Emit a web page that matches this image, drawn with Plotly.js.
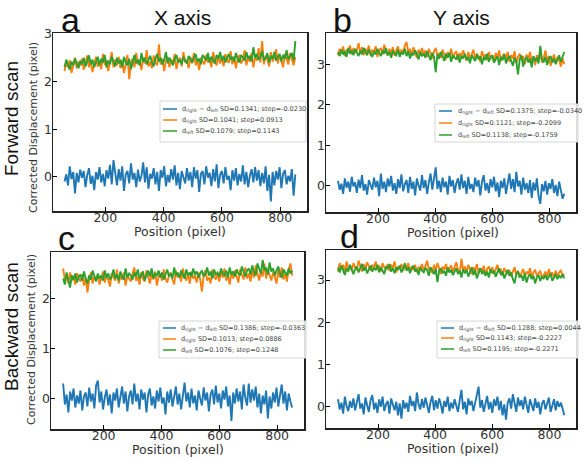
<!DOCTYPE html>
<html>
<head>
<meta charset="utf-8">
<script src="https://cdn.plot.ly/plotly-3.0.1.min.js"></script>
<style>
  html, body { margin: 0; padding: 0; background: #fff; }
  #chart { width: 587px; height: 461px; }
</style>
</head>
<body>
<div id="chart"></div>
<script>
// Sampling positions along the scan (pixel)
const posStart = 60;
const posStep = 6;
const posCount = 133;

// Panel titles and labels
const panelLetters = ["a", "b", "c", "d"];
const columnTitles = ["X axis", "Y axis"];
const rowTitles = ["Forward scan", "Backward scan"];
const xLabel = "Position (pixel)";
const yLabel = "Corrected Displacement (pixel)";
const xTickVals = [200, 400, 600, 800];

// Legend statistics per panel: [diff, right, left]
const sdValues = [
  ["0.1341", "0.1041", "0.1079"],
  ["0.1375", "0.1121", "0.1138"],
  ["0.1386", "0.1013", "0.1076"],
  ["0.1288", "0.1143", "0.1195"]
];
const stepValues = [
  ["-0.0230", "0.0913", "0.1143"],
  ["-0.0340", "-0.2099", "-0.1759"],
  ["-0.0363", "0.0886", "0.1248"],
  ["0.0044", "-0.2227", "-0.2271"]
];

// (a) forward scan, X axis
const diffA = [-0.10,0.05,-0.18,0.22,-0.05,0.10,-0.35,0.08,-0.12,0.15,
  -0.02,0.12,-0.22,0.04,0.18,-0.15,0.02,-0.28,0.10,-0.06,
  0.20,-0.12,0.06,-0.20,0.14,-0.04,0.25,-0.16,0.35,0.02,
  -0.18,0.16,-0.08,0.22,-0.30,0.05,0.12,-0.14,0.28,-0.06,
  0.08,-0.22,0.15,-0.10,0.02,0.30,-0.12,0.20,-0.25,0.06,
  -0.04,0.18,-0.16,0.10,-0.30,0.14,-0.02,0.22,-0.20,0.04,
  -0.12,0.16,-0.06,0.24,-0.18,0.08,-0.26,0.12,0.00,-0.14,
  0.18,-0.08,0.10,-0.22,0.20,-0.04,0.14,-0.32,0.06,0.12,
  -0.16,0.22,-0.02,0.08,-0.20,0.16,-0.10,0.26,-0.24,0.04,
  0.12,-0.14,0.20,-0.06,0.02,-0.28,0.14,-0.08,0.18,-0.18,
  0.06,-0.10,0.24,-0.16,0.10,-0.22,0.02,0.16,-0.12,0.20,
  -0.08,0.14,-0.20,0.08,-0.14,0.22,-0.30,0.04,-0.52,0.10,
  -0.18,0.12,-0.06,0.20,-0.24,0.06,0.14,-0.16,0.02,-0.10,
  0.16,-0.40,0.05];
const rightA = [2.22,2.40,2.30,2.45,2.18,2.38,2.50,2.28,2.42,2.33,
  2.48,2.25,2.40,2.55,2.30,2.44,2.20,2.36,2.52,2.31,
  2.42,2.26,2.58,2.35,2.45,2.22,2.40,2.62,2.30,2.46,
  2.34,2.52,2.28,2.44,2.18,2.40,2.56,2.05,2.38,2.48,
  2.30,2.60,2.36,2.45,2.24,2.50,2.38,2.66,2.32,2.42,
  2.28,2.55,2.40,2.34,2.78,2.36,2.48,2.22,2.44,2.52,
  2.30,2.46,2.38,2.58,2.26,2.44,2.50,2.32,2.62,2.40,
  2.45,2.28,2.52,2.38,2.60,2.34,2.46,2.24,2.50,2.42,
  2.36,2.56,2.40,2.48,2.30,2.62,2.44,2.34,2.54,2.38,
  2.50,2.32,2.58,2.44,2.40,2.64,2.36,2.52,2.28,2.48,
  2.56,2.38,2.46,2.66,2.34,2.50,2.42,2.60,2.30,2.52,
  2.44,2.70,2.40,2.85,2.36,2.54,2.46,2.32,2.62,2.42,
  2.50,2.68,2.38,2.56,2.44,2.30,2.58,2.48,2.36,2.60,
  2.46,2.34,2.52];
const leftA = [2.30,2.46,2.36,2.25,2.42,2.34,2.48,2.38,2.28,2.44,
  2.36,2.50,2.32,2.42,2.55,2.36,2.46,2.30,2.40,2.52,
  2.34,2.48,2.40,2.56,2.30,2.44,2.36,2.52,2.42,2.32,
  2.50,2.38,2.46,2.30,2.52,2.40,2.34,2.48,2.26,2.44,
  2.56,2.38,2.46,2.34,2.60,2.42,2.50,2.36,2.44,2.54,
  2.40,2.32,2.48,2.58,2.42,2.50,2.36,2.46,2.62,2.38,
  2.50,2.42,2.34,2.48,2.56,2.40,2.46,2.36,2.52,2.44,
  2.38,2.54,2.46,2.40,2.50,2.58,2.42,2.48,2.36,2.56,
  2.50,2.44,2.60,2.40,2.52,2.46,2.38,2.56,2.48,2.62,
  2.44,2.54,2.40,2.50,2.58,2.46,2.52,2.42,2.60,2.48,
  2.40,2.56,2.50,2.44,2.62,2.48,2.54,2.42,2.72,2.50,
  2.58,2.46,2.52,2.64,2.44,2.50,2.60,2.40,2.54,2.48,
  2.62,2.44,2.52,2.58,2.42,2.56,2.48,2.66,2.46,2.54,
  2.60,2.44,2.85];

// (b) forward scan, Y axis
const diffB = [0.12,-0.10,0.05,-0.20,0.18,-0.05,0.10,-0.15,0.22,-0.02,
  0.08,-0.18,0.15,-0.06,0.26,-0.12,0.04,-0.22,0.14,0.00,
  -0.10,0.20,-0.04,0.12,-0.26,0.30,-0.08,0.10,-0.16,0.18,
  -0.02,0.24,-0.12,0.06,-0.20,0.16,-0.06,0.28,-0.14,0.04,
  0.14,-0.18,0.22,-0.08,0.10,-0.24,0.18,0.00,-0.12,0.26,
  -0.06,0.14,-0.20,0.08,0.30,-0.10,0.16,0.45,-0.08,0.12,
  -0.16,0.20,-0.04,0.10,-0.22,0.24,-0.02,0.14,-0.18,0.06,
  0.18,-0.10,0.28,-0.06,0.12,-0.20,0.22,-0.08,0.04,-0.16,
  0.20,-0.02,0.14,-0.24,0.10,0.26,-0.12,0.06,-0.18,0.16,
  -0.04,0.22,-0.14,0.08,-0.28,0.12,-0.06,0.18,-0.20,0.10,
  0.30,-0.08,0.16,-0.16,0.34,-0.02,0.12,-0.22,0.20,-0.10,
  0.06,-0.18,0.14,-0.30,0.08,-0.12,0.18,-0.26,-0.45,0.04,
  -0.14,0.12,-0.22,0.06,-0.08,0.16,-0.18,0.02,-0.26,0.10,
  -0.12,-0.32,-0.20];
const rightB = [3.22,3.38,3.26,3.44,3.20,3.36,3.30,3.46,3.24,3.40,
  3.28,3.34,3.52,3.26,3.42,3.22,3.38,3.30,3.46,3.20,
  3.36,3.28,3.44,3.18,3.34,3.40,3.24,3.48,3.30,3.22,
  3.38,3.26,3.42,3.20,3.34,3.44,3.24,3.36,3.28,3.46,
  3.55,3.26,3.38,3.20,3.42,3.30,3.16,3.36,3.24,3.40,
  3.22,3.34,3.18,3.38,3.26,3.14,3.32,3.40,3.20,3.28,
  3.16,3.36,3.24,3.12,3.30,3.20,3.38,3.14,3.26,3.32,
  3.10,3.28,3.18,3.34,3.22,3.08,3.30,3.16,3.24,3.36,
  3.12,3.26,3.20,3.06,3.32,3.18,3.24,3.10,3.30,3.14,
  3.22,3.04,3.28,3.16,3.34,3.08,3.20,3.26,3.12,3.30,
  3.06,3.22,3.14,3.32,3.02,3.18,3.26,3.10,3.20,3.00,
  3.24,3.12,3.30,3.06,3.18,2.98,3.22,3.14,3.28,3.04,
  3.16,3.34,3.08,3.20,2.96,3.12,3.24,3.02,3.18,3.10,
  2.94,3.14,3.00];
const leftB = [3.30,3.20,3.36,3.24,3.32,3.18,3.40,3.26,3.34,3.22,
  3.38,3.28,3.20,3.34,3.24,3.40,3.30,3.22,3.36,3.26,
  3.18,3.32,3.24,3.38,3.28,3.20,3.34,3.26,3.40,3.22,
  3.30,3.16,3.34,3.26,3.22,3.36,3.18,3.30,3.24,3.38,
  3.20,3.32,3.14,3.28,3.22,3.34,3.24,3.12,3.30,3.20,
  3.26,3.16,3.32,3.22,3.10,3.28,3.18,2.80,3.24,3.14,
  3.30,3.20,3.08,3.26,3.16,3.28,3.06,3.22,3.18,3.12,
  3.24,3.04,3.20,3.14,3.26,3.10,3.18,3.02,3.22,3.16,
  3.08,3.24,3.12,3.20,3.00,3.18,3.10,3.26,3.06,3.16,
  3.22,3.04,3.14,3.20,2.98,3.18,3.10,3.24,3.02,3.14,
  3.20,3.08,2.96,3.16,3.06,2.75,3.12,3.22,2.94,3.10,
  3.18,3.04,3.14,2.92,3.20,3.08,3.16,3.02,3.45,3.10,
  3.06,3.18,2.98,3.12,3.20,3.04,3.14,3.00,3.10,3.22,
  3.06,3.16,3.30];

// (c) backward scan, X axis
const diffC = [0.30,-0.12,0.08,-0.28,0.14,-0.04,0.20,-0.18,0.06,-0.10,
  0.16,-0.24,0.04,0.12,-0.16,0.22,-0.06,0.10,-0.20,0.26,
  0.36,-0.08,0.14,-0.22,0.02,0.18,-0.14,0.08,-0.30,0.12,
  -0.04,0.20,-0.18,0.06,0.24,-0.10,0.14,-0.26,0.04,0.16,
  -0.12,0.30,-0.06,0.10,-0.22,0.18,-0.02,0.12,-0.28,0.08,
  0.20,-0.14,0.04,-0.20,0.16,-0.06,0.22,-0.10,0.02,-0.32,
  0.14,-0.08,0.18,-0.16,0.06,0.24,-0.12,0.10,-0.22,0.04,
  0.32,-0.06,0.12,-0.18,0.20,-0.10,0.06,-0.24,0.16,0.00,
  -0.14,0.22,-0.04,0.12,-0.26,0.08,0.18,-0.12,0.26,-0.08,
  0.10,-0.20,0.16,-0.02,0.24,-0.16,0.06,-0.45,0.12,-0.10,
  0.20,-0.06,0.14,-0.22,0.28,0.02,-0.14,0.30,-0.08,0.18,
  -0.04,0.24,-0.18,0.10,-0.30,0.06,-0.12,0.16,-0.40,0.04,
  -0.20,0.12,-0.08,0.22,-0.16,0.06,0.28,-0.10,0.14,-0.24,
  0.10,-0.06,-0.18];
const rightC = [2.60,2.38,2.46,2.30,2.52,2.36,2.44,2.28,2.50,2.40,
  2.34,2.48,2.26,2.42,2.12,2.38,2.52,2.30,2.44,2.36,
  2.48,2.28,2.40,2.54,2.32,2.46,2.38,2.24,2.50,2.42,
  2.36,2.58,2.30,2.44,2.38,2.52,2.26,2.46,2.40,2.34,
  2.50,2.62,2.36,2.44,2.28,2.52,2.40,2.34,2.56,2.42,
  2.30,2.48,2.38,2.54,2.26,2.44,2.50,2.36,2.58,2.40,
  2.32,2.46,2.52,2.38,2.28,2.56,2.42,2.48,2.34,2.60,
  2.44,2.36,2.50,2.30,2.54,2.40,2.46,2.32,2.52,2.38,
  2.14,2.46,2.56,2.36,2.42,2.30,2.58,2.44,2.38,2.50,
  2.34,2.54,2.42,2.60,2.36,2.46,2.28,2.52,2.40,2.56,
  2.44,2.32,2.58,2.46,2.38,2.62,2.40,2.50,2.34,2.56,
  2.42,2.66,2.48,2.36,2.54,2.44,2.70,2.40,2.58,2.46,
  2.36,2.52,2.44,2.30,2.56,2.42,2.62,2.38,2.50,2.34,
  2.58,2.70,2.46];
const leftC = [2.40,2.28,2.52,2.34,2.22,2.46,2.38,2.50,2.32,2.44,
  2.48,2.36,2.54,2.40,2.30,2.46,2.38,2.56,2.42,2.34,
  2.50,2.40,2.46,2.36,2.56,2.42,2.50,2.38,2.44,2.58,
  2.40,2.48,2.36,2.54,2.44,2.38,2.60,2.42,2.50,2.46,
  2.38,2.52,2.44,2.58,2.40,2.48,2.54,2.36,2.46,2.56,
  2.44,2.60,2.40,2.50,2.46,2.56,2.42,2.52,2.38,2.48,
  2.58,2.44,2.50,2.40,2.62,2.46,2.52,2.42,2.56,2.48,
  2.40,2.58,2.46,2.52,2.44,2.60,2.48,2.54,2.42,2.50,
  2.56,2.44,2.50,2.62,2.46,2.54,2.40,2.58,2.48,2.52,
  2.44,2.60,2.50,2.46,2.56,2.42,2.62,2.48,2.54,2.44,
  2.58,2.50,2.46,2.64,2.52,2.44,2.56,2.60,2.48,2.66,
  2.54,2.46,2.70,2.58,2.50,2.77,2.56,2.62,2.48,2.72,
  2.54,2.60,2.46,2.56,2.64,2.50,2.42,2.58,2.52,2.46,
  2.60,2.50,2.56];

// (d) backward scan, Y axis
const diffD = [0.18,-0.06,0.10,-0.16,0.24,0.02,-0.10,0.14,-0.02,0.20,
  -0.08,0.12,0.30,-0.04,0.08,-0.18,0.22,0.04,-0.12,0.16,
  0.28,-0.06,0.10,-0.14,0.18,0.00,0.24,-0.10,0.06,0.14,
  -0.16,0.20,0.02,-0.08,0.12,-0.20,0.08,-0.28,0.16,-0.04,
  0.10,-0.12,0.26,0.02,0.14,-0.10,0.34,0.06,-0.06,0.18,
  -0.02,0.22,0.04,-0.14,0.12,0.26,-0.08,0.16,-0.04,0.20,
  0.06,-0.16,0.14,0.00,0.24,-0.10,0.10,-0.04,0.18,0.02,
  -0.12,0.16,0.40,-0.06,0.12,-0.18,0.20,0.04,0.14,-0.10,
  0.08,0.22,0.48,-0.02,0.16,-0.12,0.10,0.26,-0.06,0.12,
  -0.14,0.18,0.02,0.24,-0.08,0.14,-0.20,0.06,-0.30,0.10,
  0.20,-0.04,0.30,0.08,-0.12,0.22,0.02,0.16,-0.06,0.24,
  0.04,-0.14,0.18,0.06,-0.10,0.20,-0.02,0.12,-0.18,0.08,
  0.16,-0.06,0.10,0.22,-0.12,0.04,0.18,-0.08,0.14,0.00,
  0.10,-0.04,-0.20];
const rightD = [3.20,3.40,3.26,3.36,3.18,3.44,3.28,3.34,3.22,3.40,
  3.30,3.24,3.46,3.32,3.20,3.38,3.26,3.42,3.30,3.22,
  3.36,3.28,3.44,3.24,3.34,3.20,3.40,3.30,3.26,3.38,
  3.22,3.36,3.28,3.44,3.18,3.32,3.26,3.38,3.22,3.34,
  3.28,3.40,3.20,3.32,3.24,3.36,3.18,3.30,3.26,3.38,
  3.20,3.34,3.46,3.24,3.30,3.16,3.36,3.22,3.40,3.28,
  3.14,3.32,3.24,3.38,3.18,3.28,3.34,3.20,3.30,3.42,
  3.24,3.16,3.50,3.22,3.32,3.18,3.36,3.26,3.14,3.30,
  3.22,3.38,3.16,3.28,3.20,3.34,3.12,3.26,3.32,3.18,
  3.30,3.14,3.24,3.36,3.18,3.26,3.10,3.28,3.20,3.16,
  3.24,3.08,3.20,3.30,3.12,3.22,3.06,3.18,3.26,3.10,
  3.20,3.14,3.28,3.06,3.18,3.24,3.10,3.16,3.22,3.04,
  3.14,3.20,3.08,3.26,3.12,3.18,3.04,3.22,3.10,3.16,
  3.24,3.08,3.14];
const leftD = [3.30,3.18,3.34,3.24,3.12,3.28,3.20,3.36,3.22,3.14,
  3.26,3.32,3.18,3.28,3.38,3.22,3.30,3.16,3.26,3.34,
  3.20,3.28,3.24,3.36,3.18,3.30,3.22,3.14,3.32,3.26,
  3.38,3.20,3.28,3.16,3.30,3.24,3.34,3.18,3.26,3.40,
  3.22,3.30,3.16,3.28,3.34,3.20,3.26,3.12,3.30,3.22,
  3.18,3.28,3.24,3.10,3.30,3.20,3.14,3.26,2.95,3.22,
  3.28,3.16,3.22,3.10,3.30,3.18,3.24,3.12,3.20,3.28,
  3.14,3.22,3.06,3.26,3.16,3.24,3.08,3.20,3.30,3.12,
  3.24,3.04,3.18,3.28,3.14,3.22,3.10,3.20,3.06,3.26,
  3.16,3.22,3.08,3.18,3.28,3.12,3.20,3.04,3.16,3.24,
  3.10,3.18,3.02,2.92,3.14,3.20,3.06,3.12,2.98,3.16,
  2.94,3.08,3.14,3.02,3.10,2.92,3.06,3.12,2.98,3.08,
  3.04,3.12,3.00,3.10,3.16,2.98,3.08,3.14,3.02,3.10,
  3.06,3.12,3.04];

const panelSeries = [
  [diffA, rightA, leftA],
  [diffB, rightB, leftB],
  [diffC, rightC, leftC],
  [diffD, rightD, leftD]
];

// ---- styling / layout ----
const W = 587, H = 461;
const colors = ["#1f77b4", "#ff7f0e", "#2ca02c"];
const px = v => v / W;
const py = v => 1 - v / H;

const positions = [];
for (let i = 0; i < posCount; i++) positions.push(posStart + posStep * i);

// plot boxes in pixels: [left, right, top, bottom]
const boxes = [
  [53, 307, 33, 211],
  [326, 576, 33, 212],
  [51, 304, 252, 429],
  [326, 576, 250, 428]
];
const xRanges = [[20.5, 892], [18, 893], [18, 893], [18, 893]];
const yRanges = [[-0.72, 3.02], [-0.65, 3.77], [-0.61, 2.93], [-0.5, 3.71]];

const traces = [];
panelSeries.forEach((series, p) => {
  const sfx = p === 0 ? "" : String(p + 1);
  series.forEach((vals, k) => {
    traces.push({
      type: "scatter", mode: "lines",
      x: positions, y: vals,
      xaxis: "x" + sfx, yaxis: "y" + sfx,
      line: { color: colors[k], width: 1.9 },
      showlegend: false, hoverinfo: "skip"
    });
  });
});

const tickFont = { family: "DejaVu Sans, sans-serif", size: 12.5, color: "#333" };
const layout = {
  width: W, height: H,
  margin: { l: 0, r: 0, t: 0, b: 0 },
  paper_bgcolor: "#fff", plot_bgcolor: "#fff",
  showlegend: false,
  annotations: [], shapes: []
};

boxes.forEach((b, p) => {
  const sfx = p === 0 ? "" : String(p + 1);
  layout["xaxis" + sfx] = {
    domain: [px(b[0]), px(b[1])], range: xRanges[p], anchor: "y" + sfx,
    tickvals: xTickVals, ticks: "inside", ticklen: 4, tickwidth: 1, tickcolor: "#000",
    ticklabelstandoff: -6,
    showline: true, linecolor: "#222", linewidth: 1.5, mirror: true,
    showgrid: false, zeroline: false, tickfont: tickFont
  };
  layout["yaxis" + sfx] = {
    domain: [py(b[3]), py(b[2])], range: yRanges[p], anchor: "x" + sfx,
    tickvals: [0, 1, 2, 3], ticks: "inside", ticklen: 4, tickwidth: 1, tickcolor: "#000",
    ticklabelstandoff: -3,
    showline: true, linecolor: "#222", linewidth: 1.5, mirror: true,
    showgrid: false, zeroline: false, tickfont: tickFont
  };
});

function addText(text, x, y, size, family, opts) {
  layout.annotations.push(Object.assign({
    text: text, xref: "paper", yref: "paper", x: px(x), y: py(y),
    xanchor: "center", yanchor: "middle", showarrow: false,
    font: { size: size, family: family, color: "#111" }
  }, opts || {}));
}

const sans = "Liberation Sans, Arial, sans-serif";
const dv = "DejaVu Sans, sans-serif";

// panel letters and column titles
addText(panelLetters[0], 70, 20, 34, sans);
addText(panelLetters[1], 342, 20, 34, sans);
addText(panelLetters[2], 66, 238, 34, sans);
addText(panelLetters[3], 349, 236, 34, sans);
addText(columnTitles[0], 182, 18, 21, sans);
addText(columnTitles[1], 461, 18, 21, sans);

// row titles
addText(rowTitles[0], 11, 119, 19, sans, { textangle: -90 });
addText(rowTitles[1], 11, 327, 19, sans, { textangle: -90 });

// axis labels
addText(yLabel, 34, 128, 11, dv, { textangle: -90, font: { size: 11, family: dv, color: "#333" } });
addText(yLabel, 31, 340, 11, dv, { textangle: -90, font: { size: 11, family: dv, color: "#333" } });
[[180, 231], [453, 232], [178, 449], [453, 448]].forEach(c => {
  addText(xLabel, c[0], c[1], 12.5, dv, { font: { size: 12.5, family: dv, color: "#333" } });
});

// legends: [boxLeft, boxRight, boxTop, boxBottom, lineX0, lineX1, textX, rowYs]
const legendBoxes = [
  [160, 306, 101, 142, 163, 177, 180, [109, 120, 131]],
  [435, 578, 104, 142, 439, 452, 456, [111, 123, 135]],
  [159, 306, 321, 358, 163, 176, 179, [328, 339, 350]],
  [437, 578, 321, 358, 441, 454, 457, [328, 338, 349]]
];
const legendLabels = ["d<sub>right</sub> − d<sub>left</sub>", "d<sub>right</sub>", "d<sub>left</sub>"];

legendBoxes.forEach((lb, p) => {
  layout.shapes.push({
    type: "rect", xref: "paper", yref: "paper",
    x0: px(lb[0]), x1: px(lb[1]), y0: py(lb[3]), y1: py(lb[2]),
    fillcolor: "rgba(255,255,255,0.85)", line: { color: "#d6d6d6", width: 1 }
  });
  lb[7].forEach((ry, k) => {
    layout.shapes.push({
      type: "line", xref: "paper", yref: "paper",
      x0: px(lb[4]), x1: px(lb[5]), y0: py(ry), y1: py(ry),
      line: { color: colors[k], width: 1.5 }
    });
    addText(legendLabels[k] + " SD=" + sdValues[p][k] + "; step=" + stepValues[p][k],
      lb[6], ry, 6.5, dv, { xanchor: "left", font: { size: 6.5, family: dv, color: "#444" } });
  });
});

Plotly.newPlot("chart", traces, layout, { staticPlot: true, displayModeBar: false });
</script>
</body>
</html>
